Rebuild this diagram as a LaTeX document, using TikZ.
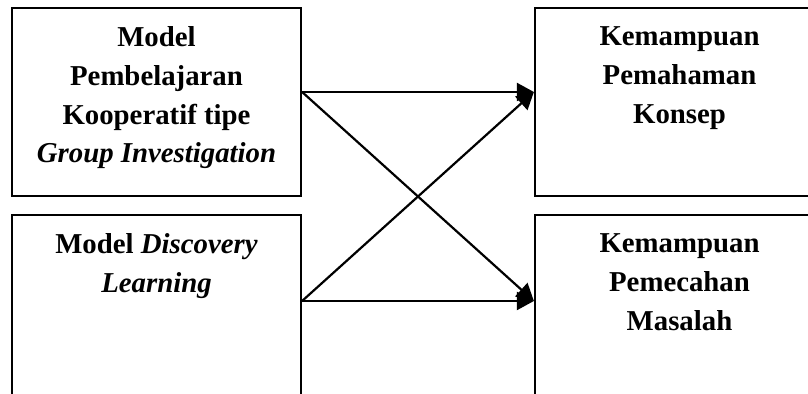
\documentclass[tikz,border=0pt]{standalone}
\usepackage{fontspec}
\setmainfont{Liberation Serif}
\usetikzlibrary{arrows.meta}
\begin{document}
\begin{tikzpicture}[x=0.5pt, y=0.5pt, line width=1.1pt,
  box/.style={draw, minimum width=144.5pt, minimum height=94pt, inner sep=0pt},
  lowbox/.style={box, minimum height=105pt},
  txt/.style={anchor=north, align=center, inner sep=0pt, yshift=-9.5pt,
    font=\fontsize{14.4}{19.3}\selectfont\bfseries},
  arr/.style={-{Triangle[length=8.5pt, width=9pt]}}]
\useasboundingbox (0,0) rectangle (808,394);
\clip (0,0) rectangle (808,394);
% boxes
\node[box] (gi) at (156.5,292) {};
\node[lowbox] (dl) at (156.5,74) {};
\node[box] (kpk) at (679.5,292) {};
\node[lowbox] (kpm) at (679.5,74) {};
\node[txt] (gi-t) at (gi.north) {Model\\Pembelajaran\\Kooperatif tipe\\\textit{Group Investigation}};
\node[txt] (dl-t) at (dl.north) {Model \textit{Discovery}\\\textit{Learning}};
\node[txt] (kpk-t) at (kpk.north) {Kemampuan\\Pemahaman\\Konsep};
\node[txt] (kpm-t) at (kpm.north) {Kemampuan\\Pemecahan\\Masalah};
% arrows
\coordinate (gi-o) at (gi.east |- 0,302);
\coordinate (dl-o) at (dl.east |- 0,93);
\coordinate (kpk-i) at (kpk.west |- 0,302);
\coordinate (kpm-i) at (kpm.west |- 0,93);
\foreach \a/\b in {gi-o/kpk-i, gi-o/kpm-i, dl-o/kpk-i, dl-o/kpm-i}
  \draw[arr] (\a) -- (\b);
\end{tikzpicture}
\end{document}
